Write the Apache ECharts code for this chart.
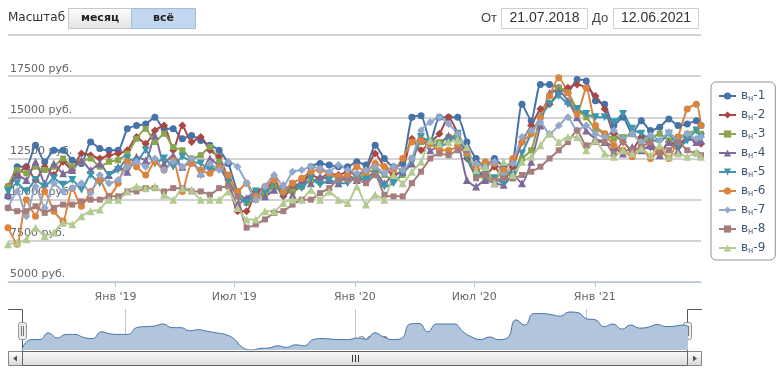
<!DOCTYPE html>
<html><head><meta charset="utf-8">
<script src="https://cdn.jsdelivr.net/npm/echarts@6/dist/echarts.min.js"></script>
<style>html,body{margin:0;padding:0;background:#fff}#c{width:780px;height:372px}</style>
</head><body><div id="c"></div>
<script>
const dates = ['2018-07-21','2018-08-04','2018-08-18','2018-09-01','2018-09-15','2018-09-29','2018-10-13','2018-10-27','2018-11-10','2018-11-24',
'2018-12-08','2018-12-22','2019-01-05','2019-01-19','2019-02-02','2019-02-16','2019-03-02','2019-03-16','2019-03-30','2019-04-13',
'2019-04-27','2019-05-11','2019-05-25','2019-06-08','2019-06-22','2019-07-06','2019-07-20','2019-08-03','2019-08-17','2019-08-31',
'2019-09-14','2019-09-28','2019-10-12','2019-10-26','2019-11-09','2019-11-23','2019-12-07','2019-12-21','2020-01-04','2020-01-18',
'2020-02-01','2020-02-15','2020-02-29','2020-03-14','2020-03-28','2020-04-11','2020-04-25','2020-05-09','2020-05-23','2020-06-06',
'2020-06-20','2020-07-04','2020-07-18','2020-08-01','2020-08-15','2020-08-29','2020-09-12','2020-09-26','2020-10-10','2020-10-24',
'2020-11-07','2020-11-21','2020-12-05','2020-12-19','2021-01-02','2021-01-16','2021-01-30','2021-02-13','2021-02-27','2021-03-13',
'2021-03-27','2021-04-10','2021-04-24','2021-05-08','2021-05-22','2021-06-05','2021-06-12'];

const seriesNames = ['вн-1','вн-2','вн-3','вн-4','вн-5','вн-6','вн-7','вн-8','вн-9'];

const s1 = [10200,12000,12000,13300,12300,13000,13000,12400,12200,13500,13100,13000,13000,14300,14500,14600,15000,14300,14300,13700,
13900,13600,13300,13000,12200,10500,10000,10300,10400,10800,10500,11000,10800,12000,12200,12100,12000,12000,12300,12100,
13300,12500,12000,12200,15000,15100,13500,15000,15000,15000,13500,12500,12000,12500,12000,12300,15800,14800,17000,17000,
16800,16500,17300,17200,16000,15800,14500,15000,14000,14800,14200,14400,14900,14500,14600,14800,14500];
const s2 = [10800,11500,12000,11200,12000,11500,12300,11800,12800,12700,12500,12700,12800,13000,13800,13400,14200,14500,13000,14500,
13500,13800,13000,12600,11200,9300,9300,10500,10700,11000,10200,10700,11000,11500,11300,11600,11500,11700,11500,11800,
12800,12000,11500,11800,13700,13000,13500,14000,15000,14000,12500,11800,11500,12000,11200,12000,13500,14500,15500,15800,
16500,16800,17000,16800,16300,15500,14000,13500,13000,13800,13200,12800,13500,13300,13800,13500,13400];
const s3 = [10800,11800,11600,12000,11800,12000,12500,12000,12300,12500,12000,12300,12400,12800,13700,14300,13500,14000,13200,13000,
12500,12700,13200,12300,11000,10500,9800,10000,10300,10800,10500,10500,10800,11200,11200,11500,11300,11400,11300,11600,
11800,11500,11200,11500,12500,13500,13600,13500,13800,13900,12800,11500,11300,11200,11800,11300,12500,13000,15000,16300,
16800,16500,15500,15000,14300,14000,13700,13800,14000,13500,13700,14000,13600,13800,14000,14200,14000];
const s4 = [10300,11500,11200,12300,11000,12200,11600,11800,12400,11800,12200,11500,12000,11700,12600,12400,13900,12200,12700,12000,
12300,11600,12500,12000,11000,9700,10100,10500,10200,10600,10900,10300,11200,11000,11400,11200,11000,11500,11200,11300,
11700,11000,11500,11700,12200,13800,13000,13300,13900,13500,11200,10800,11200,11000,10900,11500,11000,12300,14500,16500,
16600,16000,15000,14200,13700,13500,13200,12800,13200,13000,13300,12700,13500,13000,13800,13500,13600];
const s5 = [10500,11000,10500,11200,10800,11300,10900,11200,10600,11500,11000,11500,11800,12500,12300,13000,12200,12500,12000,12600,
12300,12200,11800,12000,11200,10200,9800,10500,10500,11000,10300,10900,10700,11300,10900,11200,11000,11000,11400,11200,
11500,10800,11000,11600,12300,13800,13500,13200,13500,14000,12500,11500,11500,11300,11000,11500,12800,14000,15000,15800,
16300,15800,15500,15200,15000,15000,14700,15200,14300,14000,13700,13500,14000,13200,13600,14200,13800];
const s6 = [8300,7300,10000,9000,10500,9300,8700,10700,9600,10500,11200,10200,11000,12300,12000,11500,12300,11800,12400,10500,
12200,11800,11600,12000,11500,10500,11000,10200,10800,11200,10500,11000,11300,11700,11800,11600,11400,11500,12000,11700,
12200,12000,11800,12500,13500,13600,13400,13000,13000,13200,12800,12000,12300,12200,11800,12500,13500,14000,15000,16300,
17400,16500,15200,16800,14500,14000,13300,13000,12600,13200,12500,13000,12500,13800,15500,15800,14500];
const s7 = [9500,10500,9000,10800,9500,11000,10500,10700,11000,10400,11500,11000,11200,12000,12300,12000,12500,11800,12300,12000,
12500,11500,12200,11800,12300,12000,11000,10000,10800,11500,10800,11700,11800,12000,11900,11700,12100,11800,11600,11800,
12000,11600,12000,11800,12500,14200,14700,15000,14600,14000,13000,12200,12000,12300,11500,12200,13800,14200,14700,14000,
14500,15000,14200,14500,14000,13800,14200,13700,14000,13500,13900,13600,14100,13600,14000,13700,13800];
const s8 = [9500,9300,9300,9600,9200,9500,9700,9700,9900,10000,10000,10200,10200,10500,10500,10700,10700,10500,10700,10700,
10500,10500,10300,10700,10800,10200,8300,8500,8800,9200,9300,9700,10000,10000,10400,10700,11200,11200,11200,11000,
11500,10300,10200,10200,11000,11700,12500,12800,12700,13000,13000,11300,11500,11200,11300,11300,11500,11700,12000,12500,
13000,13500,14200,13300,13500,13500,12800,13500,13000,13200,13500,12800,13000,13500,13000,12800,12700];
const s9 = [7300,7400,7600,8300,7800,8000,8600,8500,9000,9300,9400,10000,10000,10500,10800,10700,10800,10300,10000,10700,
10600,10000,10000,10000,10500,9500,8800,8800,9300,9300,9800,10000,10000,10600,10000,10500,10000,9800,10800,9700,
10300,10000,11500,11000,11700,12300,13600,13400,13500,13600,13200,11800,12000,11000,12300,11500,12300,12600,13300,14000,
13500,13800,13800,13000,13600,12800,12600,13000,12800,13100,12700,13300,12600,12800,12600,12900,12600];

const yTicks = [5000, 7500, 10000, 12500, 15000, 17500, 20000];
const xTickDates = ['2019-01-01','2019-07-01','2020-01-01','2020-07-01','2021-01-01'];
const xTickLabels = ["Янв '19","Июл '19","Янв '20","Июл '20","Янв '21"];
const navTickDates = ['2019-01-01','2020-01-01','2021-01-01'];
const navTickLabels = ['2019','2020','2021'];
const rangeFrom = '21.07.2018', rangeTo = '12.06.2021';

const colors = ['#4572A7','#AA4643','#89A54E','#80699B','#3D96AE','#DB843D','#92A8CD','#A47D7C','#B5CA92'];
const symbols = ['circle','diamond','rect','triangle','triangle','circle','diamond','rect','triangle'];
const symRot = [0,0,0,0,180,0,0,0,0];
const symSize = [7,8,6,8,8,7,8,6,8];

const ts = d => Date.parse(d + 'T00:00:00');
const tMin = ts('2018-07-21'), tMax = ts('2021-06-12');
const allVals = [s1,s2,s3,s4,s5,s6,s7,s8,s9];
const xTickTs = xTickDates.map(ts), navTickTs = navTickDates.map(ts);

const chart = echarts.init(document.getElementById('c'), null, {renderer:'canvas'});
const FONT = 'DejaVu Sans';

const mainSeries = allVals.map((arr, k) => ({
  name: seriesNames[k], type: 'line', xAxisIndex: 0, yAxisIndex: 0,
  data: dates.map((d, i) => [ts(d), arr[i]]),
  smooth: 0.2, symbol: symbols[k], symbolRotate: symRot[k], symbolSize: symSize[k], showSymbol: true,
  lineStyle: {width: 2, color: colors[k]}, itemStyle: {color: colors[k]},
  emphasis: {disabled: true}
}));

const navSeries = {
  name: 'nav', type: 'line', xAxisIndex: 1, yAxisIndex: 1,
  data: dates.map((d, i) => [ts(d), s1[i]]),
  smooth: true, symbol: 'none', lineStyle: {width: 1, color: '#4572A7'},
  areaStyle: {color: '#b3c5dd', opacity: 1, origin: 'start'}, silent: true
};

const grad = (a, b) => new echarts.graphic.LinearGradient(0,0,0,1,[{offset:0,color:a},{offset:1,color:b}]);

chart.setOption({
  animation: false,
  color: colors,
  grid: [
    {left: 8, right: 79, top: 35, bottom: 90, containLabel: false},
    {left: 22, right: 92, top: 309, bottom: 22, containLabel: false}
  ],
  xAxis: [
    {type: 'value', gridIndex: 0, min: tMin, max: tMax,
     axisLine: {show: true, lineStyle: {color: '#b0c4dc', width: 1}},
     axisTick: {show: true, length: 5, customValues: xTickTs, lineStyle: {color: '#b0c4dc'}},
     axisLabel: {customValues: xTickTs, margin: 10, fontFamily: FONT, fontSize: 11, color: '#666',
       formatter: v => { const i = xTickTs.indexOf(v); return i >= 0 ? xTickLabels[i] : ''; }},
     splitLine: {show: false}},
    {type: 'value', gridIndex: 1, min: tMin, max: tMax,
     axisLine: {show: false},
     axisTick: {show: true, inside: true, length: 41, customValues: navTickTs, lineStyle: {color: '#c8c8c8'}},
     axisLabel: {customValues: navTickTs, inside: true, margin: 2, align: 'left', verticalAlign: 'bottom',
       padding: [0,0,0,3], fontFamily: FONT, fontSize: 12, color: '#888',
       formatter: v => { const i = navTickTs.indexOf(v); return i >= 0 ? navTickLabels[i] : ''; }},
     splitLine: {show: false}}
  ],
  yAxis: [
    {type: 'value', gridIndex: 0, min: yTicks[0], max: yTicks[yTicks.length-1], interval: 2500,
     axisLine: {show: false}, axisTick: {show: false},
     splitLine: {show: true, lineStyle: {color: '#c4c4c4', width: 1.5}},
     axisLabel: {inside: true, margin: 2, verticalAlign: 'bottom', padding: [0,0,2,0], fontFamily: FONT, fontSize: 11, color: '#666',
       formatter: v => v === yTicks[yTicks.length-1] ? '' : v + ' руб.'}},
    {type: 'value', gridIndex: 1, show: false, scale: true,
     min: v => v.min, max: v => v.max + (v.max - v.min) * 0.08, splitLine: {show: false}}
  ],
  legend: {
    orient: 'vertical', left: 711, top: 82, data: seriesNames,
    borderColor: '#909090', borderWidth: 1, borderRadius: 5, backgroundColor: '#fff',
    padding: [7, 10, 5, 7], itemWidth: 17, itemHeight: 9, itemGap: 5,
    formatter: n => '{a|' + n.slice(0,1) + '}{s|' + n.slice(1,2) + '}{a|' + n.slice(2) + '}',
    textStyle: {fontFamily: FONT, fontSize: 12, color: '#3E576F', lineHeight: 14,
      rich: {a: {fontFamily: FONT, fontSize: 12, color: '#3E576F', lineHeight: 14},
             s: {fontFamily: FONT, fontSize: 8, color: '#3E576F', lineHeight: 14, verticalAlign: 'bottom', padding: [4,0,0,0]}}},
    selectedMode: false
  },
  series: mainSeries.concat([navSeries]),
  graphic: [
    {type: 'text', left: 8, top: 12, style: {text: 'Масштаб', font: '12px "DejaVu Sans"', fill: '#333'}},
    {type: 'rect', shape: {x: 68.5, y: 8.5, width: 63, height: 20}, style: {fill: grad('#fdfdfd','#e2e2e2'), stroke: '#c8c8c8', lineWidth: 1}},
    {type: 'text', x: 100, y: 18.5, style: {text: 'месяц', font: 'bold 11px "DejaVu Sans"', fill: '#222', align: 'center', verticalAlign: 'middle'}},
    {type: 'rect', shape: {x: 131.5, y: 8.5, width: 64, height: 20}, style: {fill: '#c3d6f0', stroke: '#a9bcd8', lineWidth: 1}},
    {type: 'text', x: 163.5, y: 18.5, style: {text: 'всё', font: 'bold 11px "DejaVu Sans"', fill: '#222', align: 'center', verticalAlign: 'middle'}},
    {type: 'text', x: 481, y: 18.5, style: {text: 'От', font: '13px "Liberation Sans"', fill: '#444', verticalAlign: 'middle'}},
    {type: 'rect', shape: {x: 501.5, y: 8.5, width: 86, height: 20}, style: {fill: '#fff', stroke: '#cfcfcf', lineWidth: 1}},
    {type: 'text', x: 544.5, y: 18.5, style: {text: rangeFrom, font: '14px "Liberation Sans"', fill: '#333', align: 'center', verticalAlign: 'middle'}},
    {type: 'text', x: 592, y: 18.5, style: {text: 'До', font: '13px "Liberation Sans"', fill: '#444', verticalAlign: 'middle'}},
    {type: 'rect', shape: {x: 613.5, y: 8.5, width: 85, height: 20}, style: {fill: '#fff', stroke: '#cfcfcf', lineWidth: 1}},
    {type: 'text', x: 656, y: 18.5, style: {text: rangeTo, font: '14px "Liberation Sans"', fill: '#333', align: 'center', verticalAlign: 'middle'}},
    {type: 'polyline', shape: {points: [[8,309.5],[22.5,309.5],[22.5,351]]}, style: {stroke: '#555', lineWidth: 1, fill: null}},
    {type: 'polyline', shape: {points: [[687.5,351],[687.5,309.5],[702,309.5]]}, style: {stroke: '#555', lineWidth: 1, fill: null}},
    {type: 'rect', shape: {x: 18.5, y: 322.5, width: 8, height: 17, r: 2}, style: {fill: '#ebebeb', stroke: '#999', lineWidth: 1}},
    {type: 'line', shape: {x1: 21.5, y1: 326, x2: 21.5, y2: 336}, style: {stroke: '#777', lineWidth: 1}},
    {type: 'line', shape: {x1: 23.5, y1: 326, x2: 23.5, y2: 336}, style: {stroke: '#777', lineWidth: 1}},
    {type: 'rect', shape: {x: 683.5, y: 322.5, width: 8, height: 17, r: 2}, style: {fill: '#ebebeb', stroke: '#999', lineWidth: 1}},
    {type: 'line', shape: {x1: 686.5, y1: 326, x2: 686.5, y2: 336}, style: {stroke: '#777', lineWidth: 1}},
    {type: 'line', shape: {x1: 688.5, y1: 326, x2: 688.5, y2: 336}, style: {stroke: '#777', lineWidth: 1}},
    {type: 'rect', shape: {x: 8.5, y: 351.5, width: 693, height: 14}, style: {fill: '#eeeeee', stroke: '#bbbbbb', lineWidth: 1}},
    {type: 'rect', shape: {x: 8.5, y: 351.5, width: 14, height: 14}, style: {fill: grad('#ffffff','#d6d6d6'), stroke: '#888', lineWidth: 1}},
    {type: 'polygon', shape: {points: [[13,358.5],[17,355.5],[17,361.5]]}, style: {fill: '#555'}},
    {type: 'rect', shape: {x: 687.5, y: 351.5, width: 14, height: 14}, style: {fill: grad('#ffffff','#d6d6d6'), stroke: '#888', lineWidth: 1}},
    {type: 'polygon', shape: {points: [[697,358.5],[693,355.5],[693,361.5]]}, style: {fill: '#555'}},
    {type: 'rect', shape: {x: 22.5, y: 351.5, width: 665, height: 14}, style: {fill: grad('#fafafa','#dadada'), stroke: '#666', lineWidth: 1}},
    {type: 'line', shape: {x1: 352.5, y1: 355, x2: 352.5, y2: 362}, style: {stroke: '#333', lineWidth: 1}},
    {type: 'line', shape: {x1: 355.5, y1: 355, x2: 355.5, y2: 362}, style: {stroke: '#333', lineWidth: 1}},
    {type: 'line', shape: {x1: 358.5, y1: 355, x2: 358.5, y2: 362}, style: {stroke: '#333', lineWidth: 1}}
  ]
});
</script></body></html>
